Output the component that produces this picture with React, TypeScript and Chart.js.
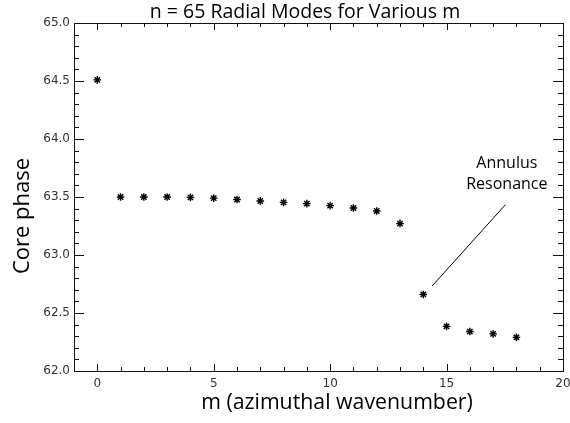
import React, { useEffect, useRef } from "react";
import { Chart, registerables } from "chart.js";

Chart.register(...registerables);

// Azimuthal wavenumber m and core phase of the n = 65 radial modes
const mValues = [0, 1, 2, 3, 4, 5, 6, 7, 8, 9, 10, 11, 12, 13, 14, 15, 16, 17, 18];
const corePhase = [
  64.51, 63.5, 63.5, 63.5, 63.497, 63.49, 63.478, 63.466, 63.454, 63.443, 63.426,
  63.405, 63.379, 63.271, 62.66, 62.385, 62.34, 62.32, 62.29,
];

const xMin = -1;
const xMax = 20;
const yMin = 62;
const yMax = 65;
const xLabelEvery = 5;
const yLabelStep = 0.5;
const yMinorStep = 0.1;

const titleText = "n = 65 Radial Modes for Various m";
const xTitle = "m (azimuthal wavenumber)";
const yTitle = "Core phase";

// Callout: text lines and the leader line pointing at the m = 14 mode
const calloutLines = ["Annulus", "Resonance"];
const calloutTextX = 17.59;
const calloutTextY = [63.79, 63.61];
const leaderFrom = { x: 17.53, y: 63.434 };
const leaderTo = { x: 14.38, y: 62.733 };

const SANS = '"Open Sans", "Noto Sans", sans-serif';
const TICK_FONT = { family: '"DejaVu Sans", sans-serif', size: 12 };

const boxPlugin = {
  id: "boxAxes",
  afterDraw(chart: any) {
    const { ctx, chartArea: a } = chart;
    const x = chart.scales.x;
    const y = chart.scales.y;
    ctx.save();
    ctx.strokeStyle = "#111";
    ctx.lineWidth = 1;
    ctx.strokeRect(Math.round(a.left) + 0.5, Math.round(a.top) + 0.5,
      Math.round(a.right - a.left), Math.round(a.bottom - a.top));

    // inward ticks on bottom and top edges
    ctx.beginPath();
    for (let v = xMin; v <= xMax; v += 1) {
      const px = Math.round(x.getPixelForValue(v)) + 0.5;
      const len = v % xLabelEvery === 0 ? 7 : 4;
      ctx.moveTo(px, a.bottom);
      ctx.lineTo(px, a.bottom - len);
      ctx.moveTo(px, a.top);
      ctx.lineTo(px, a.top + len);
    }
    // inward ticks on left and right edges
    const nY = Math.round((yMax - yMin) / yMinorStep);
    const perMajor = Math.round(yLabelStep / yMinorStep);
    for (let i = 0; i <= nY; i++) {
      const py = Math.round(y.getPixelForValue(yMin + i * yMinorStep)) + 0.5;
      const len = i % perMajor === 0 ? 10 : 5;
      ctx.moveTo(a.left, py);
      ctx.lineTo(a.left + len, py);
      ctx.moveTo(a.right, py);
      ctx.lineTo(a.right - len, py);
    }
    ctx.stroke();

    // leader line
    ctx.beginPath();
    ctx.strokeStyle = "#000";
    ctx.moveTo(x.getPixelForValue(leaderFrom.x), y.getPixelForValue(leaderFrom.y));
    ctx.lineTo(x.getPixelForValue(leaderTo.x), y.getPixelForValue(leaderTo.y));
    ctx.stroke();

    // callout text
    ctx.fillStyle = "#000";
    ctx.font = `16px ${SANS}`;
    ctx.textAlign = "center";
    ctx.textBaseline = "middle";
    calloutLines.forEach((t, i) => {
      ctx.fillText(t, x.getPixelForValue(calloutTextX), y.getPixelForValue(calloutTextY[i]));
    });

    // title
    ctx.font = `19.5px ${SANS}`;
    ctx.fillText(titleText, 305, 12);

    // axis titles
    ctx.font = `21.3px ${SANS}`;
    ctx.fillText(xTitle, 337, 403);
    ctx.save();
    ctx.translate(23, 216);
    ctx.rotate(-Math.PI / 2);
    ctx.font = `22px ${SANS}`;
    ctx.fillText(yTitle, 0, 0);
    ctx.restore();

    ctx.restore();
  },
};

export default function App() {
  const ref = useRef<HTMLCanvasElement | null>(null);

  useEffect(() => {
    if (!ref.current) return;
    const chart = new Chart(ref.current, {
      type: "scatter",
      data: {
        datasets: [
          {
            data: mValues.map((m, i) => ({ x: m, y: corePhase[i] })),
            pointStyle: "star",
            pointRadius: 3.8,
            pointBorderWidth: 1.4,
            borderColor: "#000",
            backgroundColor: "#000",
            showLine: false,
          },
        ],
      },
      options: {
        animation: false,
        responsive: true,
        maintainAspectRatio: false,
        layout: { padding: { top: 23, right: 0, left: 0, bottom: 0 } },
        plugins: {
          legend: { display: false },
          tooltip: { enabled: false },
          title: { display: false },
        },
        scales: {
          x: {
            type: "linear",
            min: xMin,
            max: xMax,
            grid: { display: false, drawTicks: false },
            border: { display: false },
            afterFit: (s: any) => {
              s.height = 52;
              s.paddingLeft = 0;
              s.paddingRight = 7;
            },
            ticks: {
              stepSize: 1,
              autoSkip: false,
              maxRotation: 0,
              padding: 6,
              color: "#333",
              font: TICK_FONT,
              callback: (v: any) => (v >= 0 && v % xLabelEvery === 0 ? String(v) : ""),
            },
          },
          y: {
            type: "linear",
            min: yMin,
            max: yMax,
            grid: { display: false, drawTicks: false },
            border: { display: false },
            afterFit: (s: any) => {
              s.width = 74;
            },
            ticks: {
              stepSize: yLabelStep,
              autoSkip: false,
              padding: 4,
              color: "#333",
              font: TICK_FONT,
              callback: (v: any) => Number(v).toFixed(1),
            },
          },
        },
      },
      plugins: [boxPlugin],
    });
    return () => chart.destroy();
  }, []);

  return (
    <div style={{ position: "fixed", left: 0, top: 0, width: 570, height: 423, background: "#fff" }}>
      <canvas ref={ref} />
    </div>
  );
}
